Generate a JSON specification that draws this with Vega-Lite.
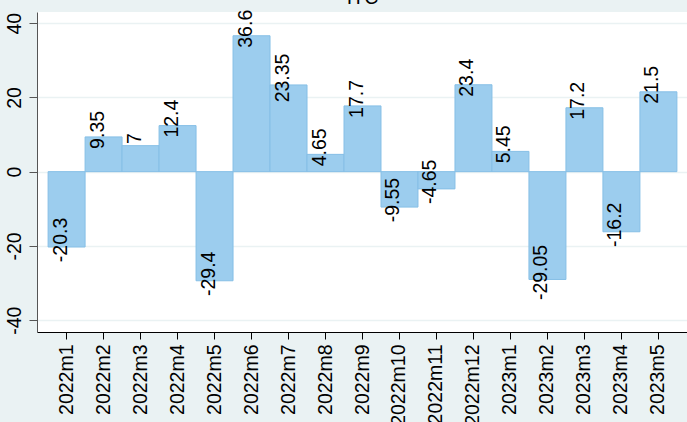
{
  "$schema": "https://vega.github.io/schema/vega-lite/v6.json",
  "autosize": "none",
  "width": 651,
  "height": 320,
  "padding": {"left": 37, "top": 12, "right": 0, "bottom": 90},
  "background": "#eaf2f3",
  "title": {"text": "ITC", "font": "Liberation Sans", "fontSize": 19.5, "fontWeight": "normal", "color": "#000000", "offset": 1},
  "config": {
    "view": {"fill": "#ffffff", "stroke": null},
    "locale": {"number": {"decimal": ".", "thousands": ",", "grouping": [3], "currency": ["$", ""], "minus": "-"}}
  },
  "data": {"values": [
    {"month": "2022m1", "value": -20.3},
    {"month": "2022m2", "value": 9.35},
    {"month": "2022m3", "value": 7},
    {"month": "2022m4", "value": 12.4},
    {"month": "2022m5", "value": -29.4},
    {"month": "2022m6", "value": 36.6},
    {"month": "2022m7", "value": 23.35},
    {"month": "2022m8", "value": 4.65},
    {"month": "2022m9", "value": 17.7},
    {"month": "2022m10", "value": -9.55},
    {"month": "2022m11", "value": -4.65},
    {"month": "2022m12", "value": 23.4},
    {"month": "2023m1", "value": 5.45},
    {"month": "2023m2", "value": -29.05},
    {"month": "2023m3", "value": 17.2},
    {"month": "2023m4", "value": -16.2},
    {"month": "2023m5", "value": 21.5}
  ]},
  "encoding": {
    "x": {"field": "month", "type": "ordinal", "sort": null,
      "scale": {"paddingInner": 0, "paddingOuter": 0.3},
      "axis": {"title": null, "labelAngle": 270, "labelAlign": "right", "labelBaseline": "middle",
        "labelFont": "Liberation Sans", "labelFontSize": 19.5, "labelColor": "#000000",
        "tickSize": 7, "tickColor": "#000000", "domainColor": "#000000", "labelPadding": 5, "grid": false}},
    "y": {"field": "value", "type": "quantitative",
      "scale": {"domain": [-43.2, 43], "nice": false, "zero": false},
      "axis": {"title": null, "values": [-40, -20, 0, 20, 40], "labelAngle": 270, "labelAlign": "center", "labelBaseline": "bottom",
        "labelFont": "Liberation Sans", "labelFontSize": 19.5, "labelColor": "#000000",
        "tickSize": 8, "tickColor": "#555555", "domainColor": "#555555", "labelPadding": 5,
        "grid": true, "gridColor": "#eaf2f3", "gridWidth": 1.5}}
  },
  "layer": [
    {"mark": {"type": "bar", "fill": "#9ccdee", "stroke": "#86bfe6", "strokeWidth": 1},
     "encoding": {"y2": {"datum": 0}}},
    {"mark": {"type": "text", "angle": 270, "align": "center", "baseline": "alphabetic", "dx": 7,
      "font": "Liberation Sans", "fontSize": 19.5, "color": "#000000"},
     "encoding": {"text": {"field": "value", "type": "quantitative"}}}
  ]
}
